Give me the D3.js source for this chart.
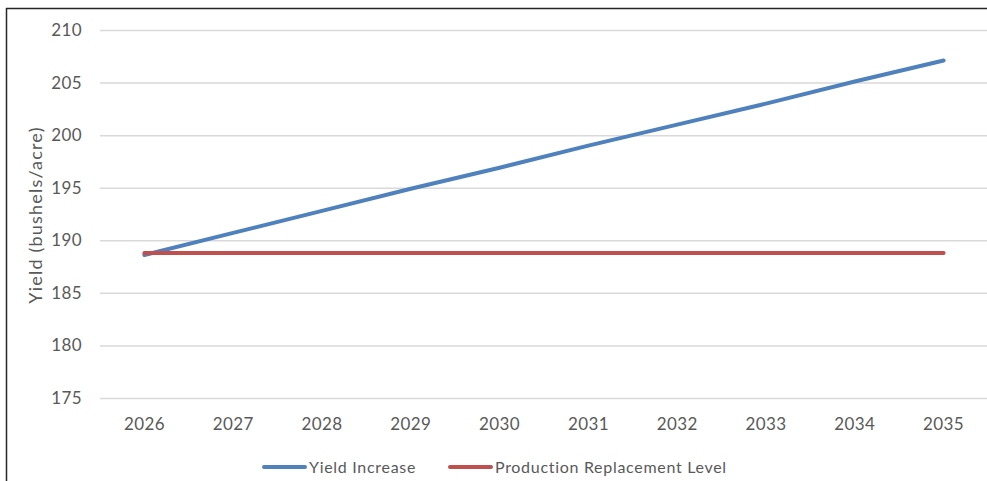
<!DOCTYPE html>
<html><head><meta charset="utf-8">
<script src="https://cdn.jsdelivr.net/npm/d3@7"></script>
<style>
html,body{margin:0;padding:0;background:#fff;}
text{font-family:"Lato","Open Sans",sans-serif;fill:#595959;}
</style></head>
<body>
<svg id="c" width="987" height="481"></svg>
<script>
const years = ["2026","2027","2028","2029","2030","2031","2032","2033","2034","2035"];
const yieldIncrease = [188.6, 190.7, 192.8, 194.9, 196.9, 199.0, 201.0, 203.0, 205.1, 207.1];
const replacementLevel = [188.8, 188.8, 188.8, 188.8, 188.8, 188.8, 188.8, 188.8, 188.8, 188.8];
const yTicks = [175, 180, 185, 190, 195, 200, 205, 210];
const seriesNames = ["Yield Increase", "Production Replacement Level"];
const seriesColors = ["#4F81BD", "#C0504D"];

const svg = d3.select("#c");
const W = 987, H = 481;
const plot = {left: 100, right: 988, top: 30, bottom: 398};

// chart border (cropped: only top and left visible)
svg.append("line").attr("x1",6).attr("x2",W).attr("y1",8.5).attr("y2",8.5).attr("stroke","#262626").attr("stroke-width",1.5);
svg.append("line").attr("x1",6.5).attr("x2",6.5).attr("y1",8).attr("y2",H).attr("stroke","#262626").attr("stroke-width",1.5);

const x = d3.scaleBand().domain(years).range([plot.left, plot.right]);
const y = d3.scaleLinear().domain([175, 210]).range([plot.bottom, plot.top]);

// gridlines
const yAxis = d3.axisLeft(y).tickValues(yTicks).tickSize(-(plot.right - plot.left)).tickPadding(18).tickFormat(d3.format("d"));
const gy = svg.append("g").attr("transform",`translate(${plot.left},0)`).call(yAxis);
gy.select(".domain").remove();
gy.selectAll(".tick line").attr("stroke","#d9d9d9").attr("stroke-width",1.5);
gy.selectAll(".tick text").style("font-size","17px").style("fill","#595959").style("letter-spacing","0.4px");

const xAxis = d3.axisBottom(x).tickSize(0).tickPadding(20);
const gx = svg.append("g").attr("transform",`translate(0,${plot.bottom})`).call(xAxis);
gx.select(".domain").remove();
gx.selectAll(".tick text").style("font-size","17px").style("fill","#595959").style("letter-spacing","0.4px");

// axis title
svg.append("text").attr("transform",`translate(36,215) rotate(-90)`)
  .attr("text-anchor","middle").attr("dy","0.35em").style("font-size","18px").style("letter-spacing","1.2px").text("Yield (bushels/acre)");

const line = d3.line().x((d,i)=>x(years[i]) + x.bandwidth()/2).y(d=>y(d));
[yieldIncrease, replacementLevel].forEach((s,k)=>{
  svg.append("path").datum(s).attr("d",line).attr("fill","none")
    .attr("stroke",seriesColors[k]).attr("stroke-width",4).attr("stroke-linecap","round");
});

// legend
const legendX = [264, 450];
seriesNames.forEach((n,k)=>{
  const g = svg.append("g").attr("transform",`translate(${legendX[k]},467)`);
  g.append("line").attr("x1",0).attr("x2",41).attr("y1",0).attr("y2",0)
    .attr("stroke",seriesColors[k]).attr("stroke-width",4).attr("stroke-linecap","round");
  g.append("text").attr("x",45).attr("dy","0.35em").style("font-size","16px").style("letter-spacing","0.7px").text(n);
});
</script>
</body></html>
